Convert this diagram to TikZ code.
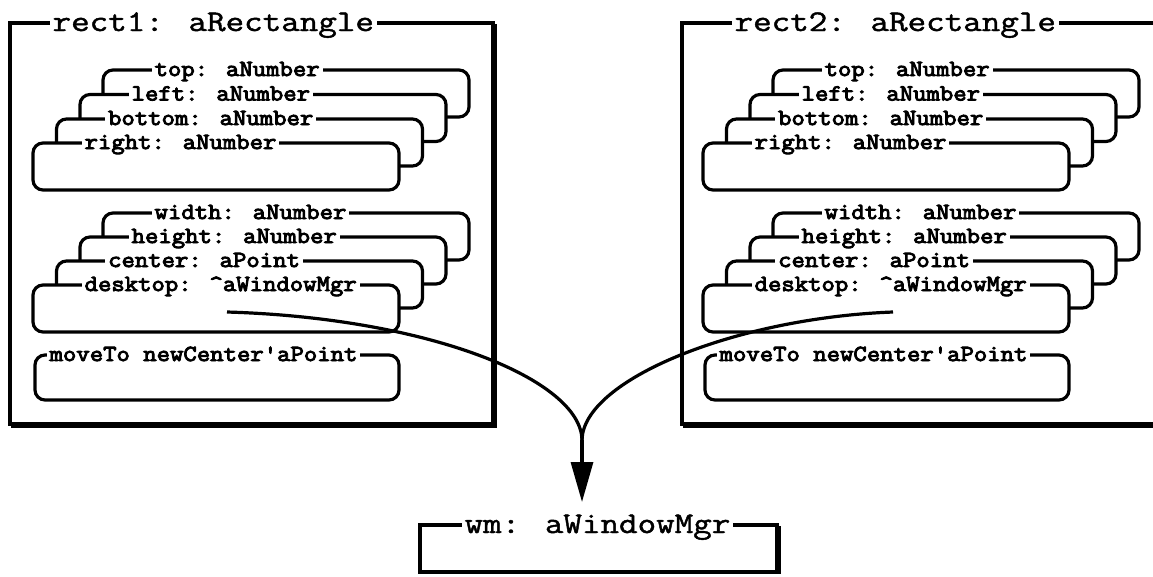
\documentclass[tikz,border=0pt]{standalone}
\usepackage{fontspec}
\usetikzlibrary{arrows.meta,calc}
\newfontfamily\ttlfont{Latin Modern Mono}[FakeStretch=1.2,FakeBold=1.5,Ligatures=TeXOff]
\newfontfamily\lblfont{Latin Modern Mono}[FakeStretch=1.13,FakeBold=4,Ligatures=TeXOff]
\newcommand\drawside[1]{%
  % group 1
  \node[ibox] (ta#1) at (103,70) {};
  \node[lbl] (tal#1) at ([xshift=47pt,yshift=-6pt]ta#1.north west) {top: aNumber};
  \node[ibox] (tb#1) at (80,94.5) {};
  \node[lbl] (tbl#1) at ([xshift=47pt,yshift=-6pt]tb#1.north west) {left: aNumber};
  \node[ibox] (tc#1) at (56.5,119) {};
  \node[lbl] (tcl#1) at ([xshift=47pt,yshift=-6pt]tc#1.north west) {bottom: aNumber};
  \node[ibox] (td#1) at (33,143) {};
  \node[lbl] (tdl#1) at ([xshift=47pt,yshift=-6pt]td#1.north west) {right: aNumber};
  % group 2
  \node[ibox] (ga#1) at (103,213) {};
  \node[lbl] (gal#1) at ([xshift=47pt,yshift=-6pt]ga#1.north west) {width: aNumber};
  \node[ibox] (gb#1) at (80,237) {};
  \node[lbl] (gbl#1) at ([xshift=47pt,yshift=-6pt]gb#1.north west) {height: aNumber};
  \node[ibox] (gc#1) at (56.5,261) {};
  \node[lbl] (gcl#1) at ([xshift=47pt,yshift=-6pt]gc#1.north west) {center: aPoint};
  \node[ibox] (gd#1) at (33,285) {};
  \node[lbl] (gdl#1) at ([xshift=47pt,yshift=-6pt]gd#1.north west) {desktop: {\char"5E}aWindowMgr};
  % method
  \node[ibox, minimum width=364pt, minimum height=45pt] (mv#1) at (35,355) {};
  \node[lbl] (mvl#1) at ([xshift=10pt,yshift=-6pt]mv#1.north west) {moveTo newCenter{\char"27}aPoint};
}
\begin{document}
\begin{tikzpicture}[x=1pt,y=-1pt,line width=3.2pt,
  ibox/.style={draw, rounded corners=10pt, fill=white, minimum width=366pt,
    minimum height=47pt, inner sep=0pt, outer sep=0pt, anchor=north west},
  obox/.style={draw, inner sep=0pt, outer sep=0pt, anchor=north west},
  lbl/.style={fill=white, inner xsep=3pt, inner ysep=0pt, anchor=base west,
    font=\fontsize{23}{23}\selectfont\lblfont},
  ttl/.style={fill=white, inner xsep=3pt, inner ysep=0pt, anchor=base west,
    font=\fontsize{30}{30}\selectfont\ttlfont},
  shadow/.style={line width=3.2pt},
  conn/.style={line width=3.2pt},
]
\useasboundingbox (0,0) rectangle (1153,576);
\fill[white] (0,0) rectangle (1153,576);

% left object
\node[obox, minimum width=483pt, minimum height=401pt] (r1) at (10,23) {};
\draw[shadow] ($(r1.north east)+(2,1)$) -- ($(r1.south east)+(2,2)$) -- ($(r1.south west)+(1,2)$);
\node[ttl] (r1t) at (48,31) {rect1: aRectangle};
\drawside{L}

% right object
\node[obox, minimum width=520pt, minimum height=401pt] (r2) at (682,23) {};
\draw[shadow] ($(r2.south west)+(1,2)$) -- ($(r2.south east)+(0,2)$);
\node[ttl] (r2t) at (730,31) {rect2: aRectangle};
\begin{scope}[xshift=670pt]
\drawside{R}
\end{scope}

% window manager
\node[obox, minimum width=357pt, minimum height=47pt] (wm) at (420,525) {};
\draw[shadow] ($(wm.north east)+(2,1)$) -- ($(wm.south east)+(2,2)$);
\node[ttl] (wmt) at (460,533) {wm: aWindowMgr};

% connectors
\coordinate (p1) at (227,312);
\coordinate (p2) at (893,312);
\coordinate (m) at (582,440);
\coordinate (tip) at (582,502);
\draw[conn] (p1) .. controls (430,318) and (581,380) .. (m);
\draw[conn] (p2) .. controls (735,318) and (583,380) .. (m);
\draw[conn,-{Triangle[length=40pt,width=22pt]}] (m) -- (tip);
\end{tikzpicture}
\end{document}
